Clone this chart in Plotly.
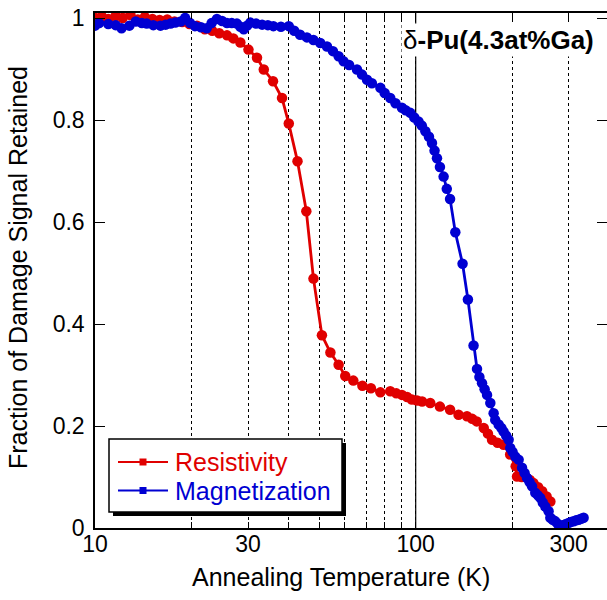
import plotly.graph_objects as go

# ---------------- data ----------------
T_res = [10.0, 10.5, 11.0, 11.6, 12.2, 12.9, 13.6, 14.3, 15.1, 15.9, 16.8, 17.7, 18.7, 19.7,
         20.8, 22.0, 23.2, 24.4, 25.8, 27.0, 28.4, 30.1, 32.0, 33.6, 35.9, 38.3, 40.2, 42.8,
         45.6, 48.0, 51.0, 54.2, 57.5, 60.3, 63.9, 68.2, 72.5, 77.6, 83.3, 87.0, 90.6, 94.0,
         97.3, 101.0, 104.7, 111.0, 119.0, 128.0, 136.0, 144.5, 150.0, 155.0, 163.0, 168.0,
         173.0, 180.0, 188.0, 197.0, 205.0, 207.0, 214.0, 220.0, 227.0, 233.0, 241.0, 248.0,
         256.0, 263.0]
F_res = [1.000, 1.003, 0.998, 1.004, 1.000, 1.006, 0.997, 1.002, 0.998, 0.996, 0.997, 0.993,
         0.992, 0.988, 0.985, 0.978, 0.975, 0.970, 0.966, 0.960, 0.952, 0.938, 0.922, 0.899,
         0.876, 0.843, 0.793, 0.719, 0.621, 0.489, 0.378, 0.344, 0.320, 0.298, 0.289, 0.279,
         0.274, 0.266, 0.268, 0.264, 0.261, 0.257, 0.252, 0.250, 0.248, 0.245, 0.238, 0.232,
         0.222, 0.219, 0.214, 0.209, 0.196, 0.185, 0.173, 0.167, 0.163, 0.144, 0.121, 0.101,
         0.100, 0.101, 0.094, 0.088, 0.080, 0.072, 0.062, 0.052]

T_mag = [10.0, 10.3, 11.0, 11.6, 12.1, 12.8, 13.4, 14.0, 14.5, 15.2, 16.0, 16.6, 17.2, 17.8,
         18.5, 19.1, 19.8, 20.5, 21.4, 22.3, 23.1, 24.0, 24.9, 25.8, 26.7, 27.7, 28.4, 29.1,
         29.8, 30.5, 31.8, 33.2, 34.6, 36.0, 38.0, 40.2, 41.8, 43.6, 45.8, 48.0, 50.4, 52.9,
         55.2, 57.5, 59.6, 62.0, 65.6, 68.0, 70.5, 73.0, 77.6, 80.0, 83.3, 86.5, 90.6, 93.0,
         96.2, 99.0, 102.0, 104.5, 107.2, 110.0, 112.4, 114.5, 116.5, 119.0, 122.2, 125.0,
         128.0, 132.9, 140.0, 145.5, 151.5, 155.3, 158.0, 161.0, 164.0, 166.9, 170.9, 175.0,
         177.0, 181.4, 185.0, 188.0, 191.5, 194.9, 197.2, 200.5, 204.5, 209.4, 214.6, 218.5,
         222.4, 226.5, 230.5, 236.0, 240.5, 244.7, 249.0, 253.6, 259.6, 262.9, 267.5, 272.5,
         277.5, 282.5, 289.2, 294.5, 299.9, 305.0, 310.7, 316.5, 322.1, 328.0, 333.9]
F_mag = [0.985, 0.990, 0.988, 0.986, 0.980, 0.985, 0.993, 0.990, 0.989, 0.986, 0.985, 0.987,
         0.989, 0.991, 0.993, 1.000, 0.990, 0.984, 0.982, 0.980, 0.990, 0.998, 0.994, 0.990,
         0.990, 0.989, 0.983, 0.978, 0.985, 0.991, 0.989, 0.987, 0.986, 0.984, 0.983, 0.984,
         0.975, 0.967, 0.962, 0.957, 0.951, 0.944, 0.935, 0.925, 0.915, 0.908, 0.899, 0.889,
         0.879, 0.872, 0.863, 0.853, 0.843, 0.833, 0.824, 0.819, 0.814, 0.805, 0.797, 0.789,
         0.778, 0.767, 0.755, 0.740, 0.725, 0.708, 0.689, 0.665, 0.645, 0.580, 0.518, 0.448,
         0.358, 0.312, 0.296, 0.284, 0.272, 0.261, 0.245, 0.225, 0.212, 0.203, 0.196, 0.189,
         0.181, 0.173, 0.157, 0.149, 0.140, 0.134, 0.118, 0.108, 0.098, 0.090, 0.082, 0.069,
         0.064, 0.059, 0.050, 0.042, 0.033, 0.020, 0.016, 0.013, 0.008, 0.003, 0.006, 0.008,
         0.010, 0.012, 0.013, 0.015, 0.016, 0.018, 0.020]

x_major = [10, 30, 100, 300]
x_minor = [20, 40, 50, 60, 70, 80, 90, 200]
y_ticks = [0, 0.2, 0.4, 0.6, 0.8, 1]
y_ticktext = ["0", "0.2", "0.4", "0.6", "0.8", "1"]
T_ref = 100
series_names = ["Resistivity", "Magnetization"]
label = "δ<b>-Pu(4.3at%Ga)</b>"
x_title = "Annealing Temperature (K)"
y_title = "Fraction of Damage Signal Retained"

RED = "#e00000"
BLUE = "#0000d2"
COLORS = [RED, BLUE]
FONT = "Liberation Sans, Arial, sans-serif"

fig = go.Figure()

# solid reference line at 100 K
fig.add_trace(go.Scatter(x=[T_ref, T_ref], y=[0, 1.02], mode="lines",
                         line=dict(color="black", width=1.2), showlegend=False,
                         hoverinfo="skip"))

for T, F, name, col in [(T_res, F_res, series_names[0], RED),
                        (T_mag, F_mag, series_names[1], BLUE)]:
    fig.add_trace(go.Scatter(x=T, y=F, mode="lines+markers", name=name,
                             line=dict(color=col, width=2.8),
                             marker=dict(color=col, size=10.5, symbol="circle"),
                             showlegend=False))

L, R, T, B = 95, 0, 13, 72
W, H = 607, 600
pw = W - L - R
ph = H - T - B
decades = pw / 320.7


def px(xp):
    return (xp - L) / pw


def py(yp):
    return (H - B - yp) / ph


# ---- hand-drawn legend box with drop shadow ----
fig.add_shape(type="rect", xref="paper", yref="paper",
              x0=px(113), x1=px(346), y0=py(516), y1=py(443),
              fillcolor="black", line=dict(width=0), layer="above")
fig.add_shape(type="rect", xref="paper", yref="paper",
              x0=px(109), x1=px(342), y0=py(512), y1=py(439),
              fillcolor="white", line=dict(color="black", width=1.5), layer="above")
for i, (name, col) in enumerate(zip(series_names, COLORS)):
    yc = 462 + i * 28.5
    fig.add_shape(type="line", xref="paper", yref="paper",
                  x0=px(118), x1=px(168), y0=py(yc), y1=py(yc),
                  line=dict(color=col, width=2.2), layer="above")
    fig.add_shape(type="rect", xref="paper", yref="paper",
                  x0=px(139.5), x1=px(146.5), y0=py(yc + 3.5), y1=py(yc - 3.5),
                  fillcolor=col, line=dict(width=0), layer="above")
    fig.add_annotation(xref="paper", yref="paper", x=px(173), y=py(yc),
                       text=name, showarrow=False, xanchor="left", yanchor="middle",
                       font=dict(family=FONT, size=25, color=col))

fig.add_annotation(xref="paper", yref="paper", x=px(498), y=py(40),
                   text=label, showarrow=False, xanchor="center", yanchor="middle",
                   font=dict(family=FONT, size=26, color="black"),
                   bgcolor="white", borderpad=1)

# axis titles
fig.add_annotation(xref="paper", yref="paper", x=px(341), y=py(577),
                   text=x_title, showarrow=False, xanchor="center", yanchor="middle",
                   font=dict(family=FONT, size=25, color="black"))
fig.add_annotation(xref="paper", yref="paper", x=px(18), y=py(268),
                   text=y_title, showarrow=False, xanchor="center", yanchor="middle",
                   textangle=-90, font=dict(family=FONT, size=25, color="black"))

fig.update_layout(
    width=W, height=H,
    margin=dict(l=L, r=R, t=T, b=B, pad=0, autoexpand=False),
    paper_bgcolor="white", plot_bgcolor="white",
    font=dict(family=FONT, size=23, color="black"),
    showlegend=False,
    xaxis=dict(type="log", range=[1, 1 + decades], automargin=False,
               tickvals=x_major, ticktext=[str(v) for v in x_major],
               ticks="inside", ticklen=6, tickcolor="black",
               showgrid=True, gridcolor="black", griddash="dot", gridwidth=1,
               minor=dict(tickvals=x_minor, ticks="inside", ticklen=6, tickcolor="black",
                          showgrid=True, gridcolor="black", griddash="dot", gridwidth=1),
               showline=True, linecolor="black", linewidth=1.5, mirror="ticks",
               zeroline=False, ticklabelstandoff=-5),
    yaxis=dict(range=[0, 1.0098], tickvals=y_ticks, ticktext=y_ticktext, automargin=False,
               ticks="inside", ticklen=10, tickcolor="black",
               showgrid=False, zeroline=False,
               showline=True, linecolor="black", linewidth=1.5, mirror="ticks",
               ticklabelstandoff=4),
)

fig.write_html("out.html", config={"displayModeBar": False},
               post_script="document.body.style.margin='0px';document.body.style.overflow='hidden';")
